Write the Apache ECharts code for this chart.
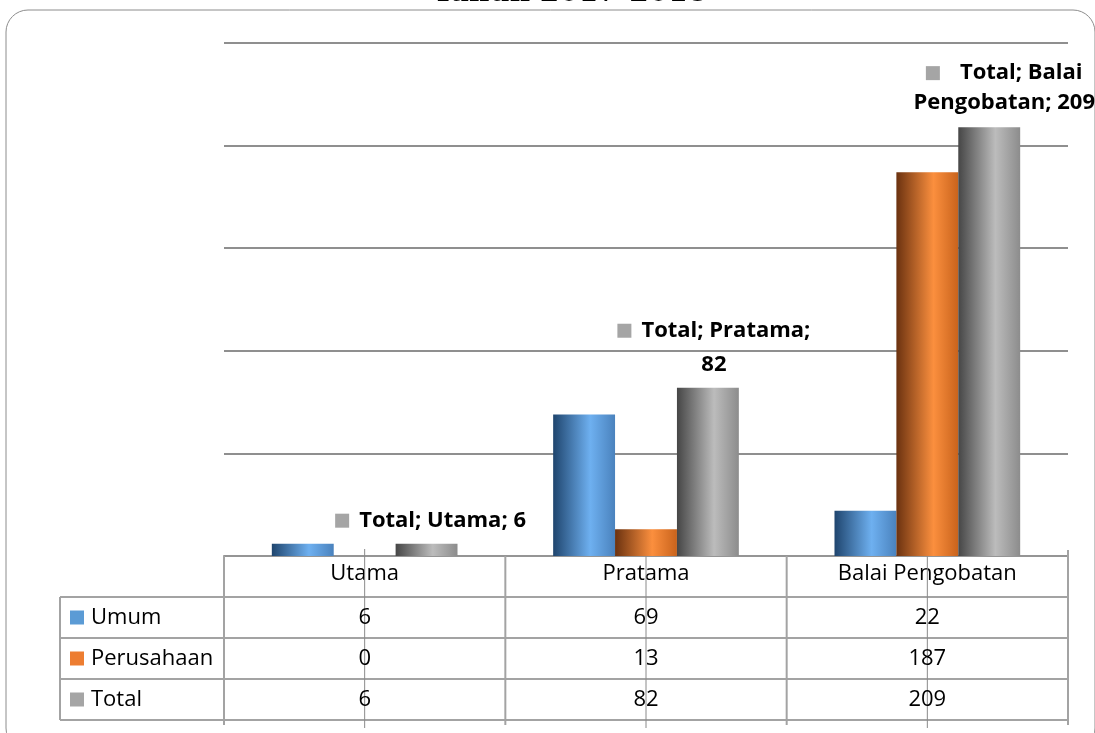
<!DOCTYPE html>
<html>
<head>
<meta charset="utf-8">
<script src="https://cdn.jsdelivr.net/npm/echarts@6/dist/echarts.min.js"></script>
<style>
  html, body { margin: 0; padding: 0; background: #fff; }
  #chart { width: 1095px; height: 733px; }
</style>
</head>
<body>
<div id="chart"></div>
<script>
// data
var categories = ['Utama', 'Pratama', 'Balai Pengobatan'];
var seriesNames = ['Umum', 'Perusahaan', 'Total'];
var umum = [6, 69, 22];
var perusahaan = [0, 13, 187];
var total = [6, 82, 209];
var yTicks = [0, 50, 100, 150, 200, 250];

var keyColors = ['#5b9bd5', '#ed7d31', '#a5a5a5'];
// horizontal "cylinder" shading like the office bars
var barStops = [
  ['#1f456e', '#6eb0f0', '#4a82bd'],
  ['#6b3210', '#fb8f3e', '#c9631c'],
  ['#464646', '#bcbcbc', '#8c8c8c']
];
var FONT = 'Open Sans';
var TXT = 22;

function shade(s) {
  return new echarts.graphic.LinearGradient(0, 0, 1, 0, [
    { offset: 0, color: s[0] },
    { offset: 0.6, color: s[1] },
    { offset: 1, color: s[2] }
  ]);
}

// label styles for the Total bars (one per category)
var richBase = {
  sq: { width: 14, height: 14, backgroundColor: '#a5a5a5' },
  b: { fontFamily: FONT, fontWeight: 'bold', fontSize: TXT, color: '#000' }
};
var totalLabels = [
  { show: true, position: 'top', distance: 12, offset: [4, 0],
    formatter: function (p) { return '{sq|}   {b|Total; ' + p.name + '; ' + p.value + '}'; },
    rich: richBase },
  { show: true, position: 'top', distance: 6, offset: [6, 0],
    formatter: function (p) { return '{sq|}   {b|Total; ' + p.name + ';}\n{b|' + p.value + '}'; },
    rich: { sq: richBase.sq, b: Object.assign({ lineHeight: 34 }, richBase.b) } },
  { show: true, position: 'top', distance: 9, offset: [15, 0],
    formatter: function (p) { return '{sq|}      {b|Total; Balai}\n{b|Pengobatan; ' + p.value + '}'; },
    rich: { sq: richBase.sq, b: Object.assign({ lineHeight: 30 }, richBase.b) } }
];

var chart = echarts.init(document.getElementById('chart'));

var values = [umum, perusahaan, total];
var series = values.map(function (arr, k) {
  return {
    name: seriesNames[k],
    type: 'bar',
    barGap: '0%',
    barCategoryGap: '34%',
    itemStyle: { color: shade(barStops[k]) },
    z: 3,
    data: arr.map(function (v, i) {
      var d = { value: v };
      if (k === 2) d.label = totalLabels[i];
      return d;
    })
  };
});

var option = {
  animation: false,
  grid: { left: 224, right: 27, top: 43, bottom: 177 },
  xAxis: {
    type: 'category',
    data: categories,
    axisLine: { show: true, lineStyle: { color: '#959595', width: 2 } },
    axisTick: { show: false },
    axisLabel: { fontFamily: FONT, fontSize: TXT, color: '#000', margin: 7 }
  },
  yAxis: {
    type: 'value',
    min: yTicks[0],
    max: yTicks[yTicks.length - 1],
    interval: yTicks[1] - yTicks[0],
    axisLabel: { show: false },
    axisLine: { show: false },
    axisTick: { show: false },
    splitLine: { lineStyle: { color: '#8f8f8f', width: 2 } }
  },
  series: series
};
chart.setOption(option);

// data table under the axis, drawn from the same arrays
function buildTable() {
  var cx = categories.map(function (c) { return chart.convertToPixel({ xAxisIndex: 0 }, c); });
  var band = cx[1] - cx[0];
  var y0 = chart.convertToPixel({ yAxisIndex: 0 }, 0);
  var headH = 41, rowH = 41;
  var left = 60, plotL = cx[0] - band / 2, plotR = cx[cx.length - 1] + band / 2;
  var lineColor = '#a3a3a3';
  var els = [];

  function line(x1, y1, x2, y2, c, w) {
    els.push({ type: 'line', silent: true, z: 1,
      shape: { x1: x1, y1: y1, x2: x2, y2: y2 },
      style: { stroke: c || lineColor, lineWidth: w || 2 } });
  }

  var rowTop = y0 + headH;
  var bottom = rowTop + rowH * seriesNames.length;
  // horizontal rules
  for (var r = 0; r <= seriesNames.length; r++) {
    line(left, rowTop + r * rowH, plotR, rowTop + r * rowH);
  }
  // vertical rules
  line(left, rowTop, left, bottom);
  for (var c = 0; c <= categories.length; c++) {
    var x = plotL + c * band;
    line(x, c === categories.length ? y0 - 6 : y0, x, bottom + 5);
  }
  // tick marks at category centres running down through the table
  cx.forEach(function (x) { line(x, y0 - 7, x, bottom + 8, '#8a8a8a', 1); });

  // legend keys + row text
  seriesNames.forEach(function (name, k) {
    var cy = rowTop + k * rowH + rowH / 2;
    els.push({ type: 'rect', silent: true, z: 2,
      shape: { x: 70, y: cy - 7, width: 14, height: 14 },
      style: { fill: keyColors[k] } });
    els.push({ type: 'text', silent: true, z: 2, x: 91, y: cy,
      style: { text: name, fontFamily: FONT, fontSize: TXT, fill: '#000',
        textAlign: 'left', textVerticalAlign: 'middle' } });
    values[k].forEach(function (v, i) {
      els.push({ type: 'text', silent: true, z: 2, x: cx[i], y: cy,
        style: { text: String(v), fontFamily: FONT, fontSize: TXT, fill: '#000',
          textAlign: 'center', textVerticalAlign: 'middle' } });
    });
  });

  // rounded frame and the clipped title above it
  els.push({ type: 'rect', silent: true, z: 0,
    shape: { x: 6, y: 10, width: 1089, height: 740, r: 22 },
    style: { fill: 'none', stroke: '#8c8c8c', lineWidth: 1 } });
  els.push({ type: 'text', silent: true, z: 5, x: 570, y: 8,
    style: { text: 'Tahun 2017-2018', fontFamily: 'DejaVu Serif', fontWeight: 'bold',
      fontSize: 28, fill: '#000', textAlign: 'center', textVerticalAlign: 'bottom' } });

  chart.setOption({ graphic: { elements: els } });
}
buildTable();
</script>
</body>
</html>
